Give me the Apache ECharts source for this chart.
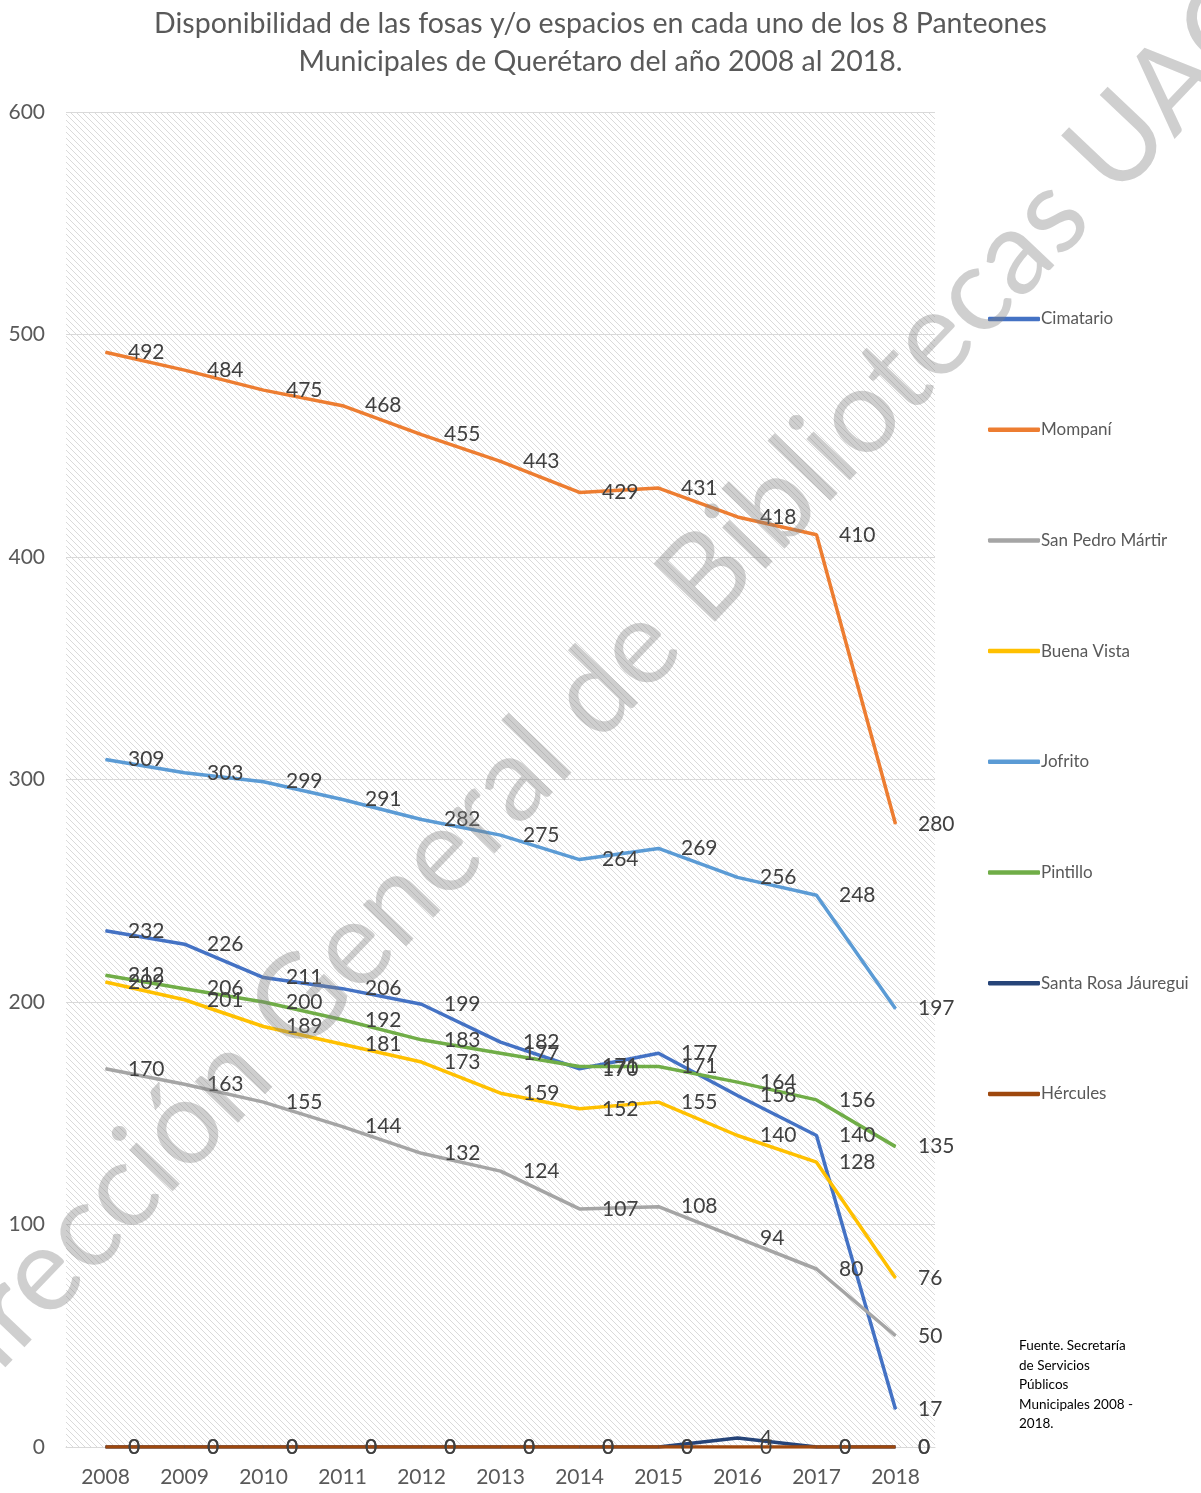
<!DOCTYPE html>
<html>
<head>
<meta charset="utf-8" />
<title>Panteones Municipales</title>
<script src="https://cdn.jsdelivr.net/npm/echarts@6/dist/echarts.min.js"></script>
<style>
  html, body { margin: 0; padding: 0; background: #fff; }
  #main { width: 1201px; height: 1493px; }
</style>
</head>
<body>
<div id="main"></div>
<script>
// datos
var years = ['2008', '2009', '2010', '2011', '2012', '2013', '2014', '2015', '2016', '2017', '2018'];
var cimatario = [232, 226, 211, 206, 199, 182, 170, 177, 158, 140, 17];
var mompani = [492, 484, 475, 468, 455, 443, 429, 431, 418, 410, 280];
var sanPedro = [170, 163, 155, 144, 132, 124, 107, 108, 94, 80, 50];
var buenaVista = [209, 201, 189, 181, 173, 159, 152, 155, 140, 128, 76];
var jofrito = [309, 303, 299, 291, 282, 275, 264, 269, 256, 248, 197];
var pintillo = [212, 206, 200, 192, 183, 177, 171, 171, 164, 156, 135];
var santaRosa = [0, 0, 0, 0, 0, 0, 0, 0, 4, 0, 0];
var hercules = [0, 0, 0, 0, 0, 0, 0, 0, 0, 0, 0];
var yTicks = [0, 100, 200, 300, 400, 500, 600];

var nombres = ['Cimatario', 'Mompaní', 'San Pedro Mártir', 'Buena Vista', 'Jofrito', 'Pintillo', 'Santa Rosa Jáuregui', 'Hércules'];
var datos = [cimatario, mompani, sanPedro, buenaVista, jofrito, pintillo, santaRosa, hercules];
var colores = ['#4472C4', '#ED7D31', '#A5A5A5', '#FFC000', '#5B9BD5', '#70AD47', '#264478', '#9E480E'];

// trama diagonal del fondo
var tile = document.createElement('canvas');
tile.width = 6; tile.height = 6;
var ctx = tile.getContext('2d');
ctx.fillStyle = '#ffffff';
ctx.fillRect(0, 0, 6, 6);
ctx.fillStyle = '#dadada';
for (var i = 0; i < 6; i++) { ctx.fillRect(i, i, 1, 1); }

var fuente = 'Lato, "Open Sans", sans-serif';

var series = [];
for (var k = 0; k < nombres.length; k++) {
  series.push({
    name: nombres[k],
    type: 'line',
    data: datos[k],
    symbol: 'circle',
    symbolSize: 1,
    lineStyle: { width: 3.5, color: colores[k] },
    itemStyle: { color: colores[k] },
    label: {
      show: true,
      position: 'right',
      distance: 22,
      color: '#404040',
      fontSize: 21,
      fontFamily: fuente
    },
    emphasis: { disabled: true }
  });
}

var chart = echarts.init(document.getElementById('main'));
var option = {
  animation: false,
  backgroundColor: '#ffffff',
  title: {
    text: 'Disponibilidad de las fosas y/o espacios en cada uno de los 8 Panteones\nMunicipales de Querétaro del año 2008 al 2018.',
    left: 'center',
    top: 0,
    textStyle: {
      color: '#595959',
      fontSize: 28.5,
      fontWeight: 'normal',
      fontFamily: fuente,
      lineHeight: 38
    }
  },
  legend: {
    orient: 'vertical',
    left: 983,
    top: 304,
    icon: 'roundRect',
    itemWidth: 52,
    itemHeight: 4.5,
    itemGap: 90.7,
    data: nombres,
    textStyle: { color: '#595959', fontSize: 17, fontFamily: fuente, lineHeight: 20, padding: [0, 0, 0, -4] }
  },
  grid: {
    left: 66, right: 266, top: 112, bottom: 46,
    show: true,
    borderWidth: 0,
    backgroundColor: { image: tile, repeat: 'repeat' }
  },
  xAxis: {
    type: 'category',
    data: years,
    axisLine: { lineStyle: { color: '#d9d9d9', width: 1 } },
    axisTick: { show: false },
    axisLabel: { color: '#595959', fontSize: 21, fontFamily: fuente, margin: 20 }
  },
  yAxis: {
    type: 'value',
    min: yTicks[0],
    max: yTicks[yTicks.length - 1],
    interval: 100,
    axisLine: { show: false },
    axisTick: { show: false },
    splitLine: { lineStyle: { color: '#d9d9d9', width: 1 } },
    axisLabel: { color: '#595959', fontSize: 21, fontFamily: fuente, margin: 21 }
  },
  graphic: [
    {
      type: 'text',
      left: 1019,
      top: 1336,
      style: {
        text: 'Fuente. Secretaría\nde Servicios\nPúblicos\nMunicipales 2008 -\n2018.',
        fill: '#000000',
        font: '13.5px ' + fuente,
        lineHeight: 19.5
      }
    },
    {
      type: 'text',
      x: 588,
      y: 700,
      rotation: 0.81,
      z: 100,
      silent: true,
      style: {
        text: 'Dirección General de Bibliotecas UAQ',
        fill: 'rgba(128,128,128,0.38)',
        font: '118px ' + fuente,
        align: 'center',
        verticalAlign: 'middle'
      }
    }
  ],
  series: series
};
chart.setOption(option);
</script>
</body>
</html>
